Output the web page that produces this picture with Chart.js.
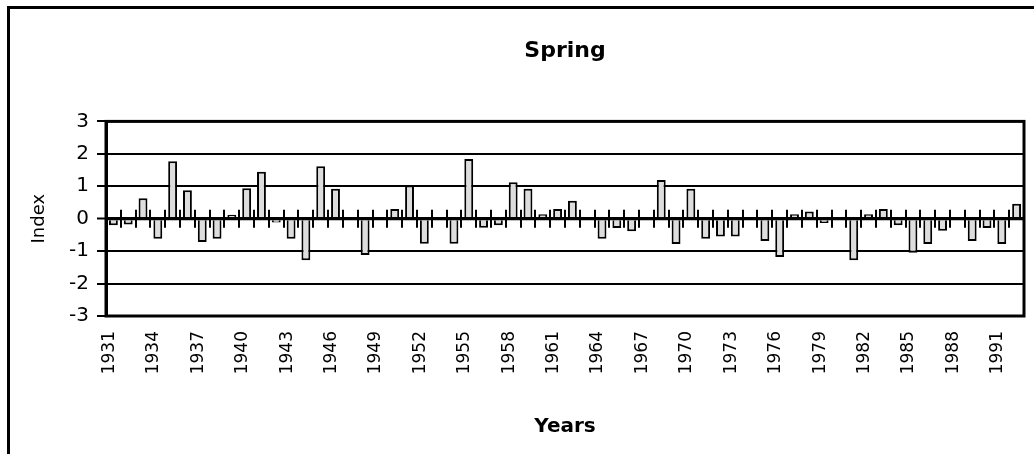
<!DOCTYPE html>
<html>
<head>
<meta charset="utf-8">
<script src="https://cdn.jsdelivr.net/npm/chart.js@4.4.1/dist/chart.umd.min.js"></script>
<style>
  html, body { margin: 0; padding: 0; background: #fff; overflow: hidden; }
  #wrap { position: relative; width: 1034px; height: 454px; overflow: hidden; }
  #frame { position: absolute; left: 7px; top: 6px; width: 1100px; height: 600px; border: 3px solid #000; }
  #myChart { position: absolute; left: 0; top: 0; }
</style>
</head>
<body>
<div id="wrap">
  <div id="frame"></div>
  <canvas id="myChart" width="1034" height="454"></canvas>
</div>
<script>
// years on the category axis
var years = [
  '1931','1932','1933','1934','1935','1936','1937','1938','1939','1940',
  '1941','1942','1943','1944','1945','1946','1947','1948','1949','1950',
  '1951','1952','1953','1954','1955','1956','1957','1958','1959','1960',
  '1961','1962','1963','1964','1965','1966','1967','1968','1969','1970',
  '1971','1972','1973','1974','1975','1976','1977','1978','1979','1980',
  '1981','1982','1983','1984','1985','1986','1987','1988','1989','1990',
  '1991','1992'
];
// spring index
var springIndex = [
  -0.20, -0.18,  0.63, -0.62,  1.77,  0.88, -0.72, -0.62,  0.12,  0.94,
   1.45, -0.12, -0.62, -1.28,  1.62,  0.92,  0.05, -1.12,  0.00,  0.30,
   1.02, -0.77,  0.05, -0.77,  1.84, -0.28, -0.20,  1.12,  0.92,  0.14,
   0.30,  0.55,  0.00, -0.62, -0.29, -0.39,  0.05,  1.19, -0.78,  0.92,
  -0.62, -0.55, -0.55,  0.05, -0.69, -1.18,  0.14,  0.22, -0.13,  0.00,
  -1.28,  0.14,  0.30, -0.20, -1.05, -0.78, -0.37,  0.05, -0.69, -0.29,
  -0.78,  0.46
];
// year labels that are written under the axis
var shownYears = ['1931','1934','1937','1940','1943','1946','1949','1952','1955','1958',
  '1961','1964','1967','1970','1973','1976','1979','1982','1985','1988','1991'];

var FONT = 'DejaVu Sans';

// plot frame + the little tick marks crossing the zero line
var axisMarks = {
  id: 'axisMarks',
  afterDatasetsDraw: function(chart) {
    var ctx = chart.ctx, a = chart.chartArea;
    var xs = chart.scales.x, ys = chart.scales.y;
    var y0 = ys.getPixelForValue(0);
    var w = xs.getPixelForValue(1) - xs.getPixelForValue(0);
    ctx.save();
    ctx.strokeStyle = '#000';
    ctx.lineWidth = 3;
    ctx.strokeRect(a.left, a.top, a.right - a.left, a.bottom - a.top);
    ctx.beginPath();
    ctx.moveTo(a.left, y0);
    ctx.lineTo(a.right, y0);
    ctx.stroke();
    ctx.lineWidth = 2;
    ctx.beginPath();
    for (var i = 0; i <= years.length; i++) {
      var x = Math.round(xs.getPixelForValue(i) - w / 2);
      ctx.moveTo(x, y0 - 9);
      ctx.lineTo(x, y0 + 9);
    }
    ctx.stroke();
    ctx.restore();
  }
};

var ctx = document.getElementById('myChart');
var myChart = new Chart(ctx, {
  type: 'bar',
  data: {
    labels: years,
    datasets: [{
      data: springIndex,
      backgroundColor: '#dddddd',
      borderColor: '#000000',
      borderWidth: 2,
      barPercentage: 0.6,
      categoryPercentage: 1.0
    }]
  },
  plugins: [axisMarks],
  options: {
    responsive: false,
    animation: false,
    devicePixelRatio: 1,
    layout: { padding: { left: 0, right: 10, top: 0, bottom: 0 } },
    plugins: {
      legend: { display: false },
      tooltip: { enabled: false },
      title: {
        display: true,
        text: 'Spring',
        fullSize: false,
        color: '#000',
        font: { family: FONT, size: 22, weight: 'bold' },
        padding: { top: 38, bottom: 57 }
      }
    },
    scales: {
      x: {
        grid: { display: false, drawTicks: false },
        border: { display: false },
        ticks: {
          autoSkip: false,
          minRotation: 90,
          maxRotation: 90,
          padding: 15,
          labelOffset: -4,
          color: '#000',
          font: { family: FONT, size: 17 },
          callback: function(v, i) {
            var y = this.getLabelForValue(v);
            return shownYears.indexOf(y) >= 0 ? y : '';
          }
        },
        title: {
          display: true,
          text: 'Years',
          color: '#000',
          font: { family: FONT, size: 20, weight: 'bold' },
          padding: { top: 0, bottom: 15 }
        },
        afterFit: function(s) {
          s.height = 138;
          s.paddingLeft = 0;
          s.paddingRight = 0;
        }
      },
      y: {
        min: -3,
        max: 3,
        ticks: {
          stepSize: 1,
          padding: 8,
          color: '#000',
          font: { family: FONT, size: 20 }
        },
        grid: {
          color: '#000',
          lineWidth: function(c) { return c.tick && c.tick.value === 0 ? 3 : 2; },
          tickLength: 9,
          tickColor: '#000',
          tickWidth: 2
        },
        border: { display: true, color: '#000', width: 3 },
        title: {
          display: true,
          text: 'Index',
          color: '#000',
          font: { family: FONT, size: 18 },
          padding: { top: 29, bottom: 0 }
        },
        afterFit: function(s) { s.width = 106; }
      }
    }
  }
});
</script>
</body>
</html>
